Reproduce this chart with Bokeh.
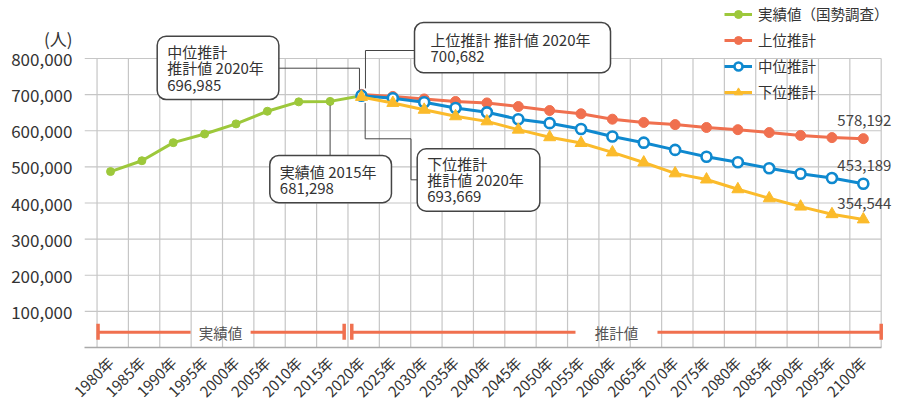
import math
from bokeh.plotting import figure
from bokeh.models import Range1d, FixedTicker, NumeralTickFormatter, Label, Arrow
from bokeh.core.properties import value
from bokeh.embed import file_html
from bokeh.resources import INLINE

# ---------------- data ----------------
years = [1980, 1985, 1990, 1995, 2000, 2005, 2010, 2015, 2020, 2025, 2030, 2035, 2040,
         2045, 2050, 2055, 2060, 2065, 2070, 2075, 2080, 2085, 2090, 2095, 2100]
year_labels = [f"{y}年" for y in years]
y_ticks = [100000, 200000, 300000, 400000, 500000, 600000, 700000, 800000]

actual_years = years[:9]
actual = [487000, 517000, 567000, 591000, 619000, 654000, 680000, 681298, 697000]

proj_years = years[8:]
upper = [700682, 695000, 688000, 681000, 677000, 667000, 656000, 647000, 632000,
         623000, 617000, 609000, 603000, 595000, 587000, 581000, 578192]
middle = [696985, 690000, 679000, 663000, 651000, 632000, 621000, 605000, 584000,
          567000, 547000, 528000, 513000, 496000, 481000, 469000, 453189]
lower = [693669, 677000, 658000, 640000, 626000, 603000, 582000, 566000, 540000,
         512000, 482000, 465000, 438000, 413000, 390000, 369000, 354544]

series_names = ["実績値（国勢調査）", "上位推計", "中位推計", "下位推計"]
period_names = ["実績値", "推計値"]
unit_label = "(人)"

# ---------------- layout / style ----------------
FONT = "Noto Sans CJK JP"
C_GREEN = "#9dc83b"
C_RED = "#f0704f"
C_BLUE = "#0f89cf"
C_YELLOW = "#fbbb2b"
C_TEXT = "#333333"
C_GRID = "#c6c6c6"

W, H = 899, 403
FL, FB = 84, 347                 # frame left / bottom (px)
FW, FH = W - FL, FB              # frame spans to right and top edges
B = -0.43                        # grid boundary offset from category centre
X0 = -0.83
PPX = (880.7 - FL) / (len(years) + B - X0)
X1 = X0 + FW / PPX
PPY = 289 / 800000
Y1 = FH / PPY


def px_x(px):
    return X0 + (px - FL) / PPX


def px_y(py):
    return (FB - py) / PPY


def dx(px):
    return px / PPX


def dy(px):
    return px / PPY


idx = {y: i for i, y in enumerate(years)}
xa = [idx[y] for y in actual_years]
xp = [idx[y] for y in proj_years]
boundaries = [i + B for i in range(len(years) + 1)]
unit_tick = int(round(px_y(38), -3))

p = figure(frame_width=FW, frame_height=FH,
           x_range=Range1d(X0, X1), y_range=Range1d(0, Y1),
           output_backend="svg", toolbar_location=None,
           min_border_left=FL, min_border_right=0,
           min_border_top=0, min_border_bottom=H - FB)
p.outline_line_color = None
p.background_fill_color = "white"
p.xgrid.visible = False
p.ygrid.visible = False

# axes
p.yaxis.ticker = FixedTicker(ticks=y_ticks + [unit_tick])
p.yaxis.formatter = NumeralTickFormatter(format="0,0")
p.yaxis.major_label_overrides = {unit_tick: unit_label}
p.yaxis.axis_line_color = None
p.yaxis.major_tick_line_color = None
p.yaxis.minor_tick_line_color = None
p.yaxis.major_label_standoff = 6
p.yaxis.major_label_text_font = FONT
p.yaxis.major_label_text_font_size = "17px"
p.yaxis.major_label_text_color = C_TEXT

p.xaxis.ticker = FixedTicker(ticks=list(range(len(years))))
p.xaxis.major_label_overrides = {i: lab for i, lab in enumerate(year_labels)}
p.xaxis.major_label_orientation = math.pi / 4
p.xaxis.major_label_standoff = 6
p.xaxis.bounds = (X0, boundaries[-1])
p.xaxis.axis_line_color = "#a9a9a9"
p.xaxis.axis_line_width = 1.5
p.xaxis.major_tick_line_color = None
p.xaxis.minor_tick_line_color = None
p.xaxis.major_label_text_font = FONT
p.xaxis.major_label_text_font_size = "15px"
p.xaxis.major_label_text_color = C_TEXT

# grid
p.segment(x0=boundaries, x1=boundaries, y0=[0] * len(boundaries),
          y1=[y_ticks[-1]] * len(boundaries), line_color=C_GRID, line_width=1.2)
p.segment(x0=[X0] * len(y_ticks), x1=[boundaries[-1]] * len(y_ticks),
          y0=y_ticks, y1=y_ticks, line_color=C_GRID, line_width=1.2)

# period bracket
yb = px_y(331.7)
yc0, yc1 = px_y(339.3), px_y(323.3)
b0 = boundaries[0]
bs = boundaries[idx[proj_years[0]]]
bl = boundaries[-1]
left_end = bs - dx(3.8)
right_start = bs + dx(3.8)
c1 = (b0 + left_end) / 2
c2 = (right_start + bl) / 2
p.segment(x0=[b0, c1 + dx(30), right_start, c2 + dx(41)],
          x1=[c1 - dx(30), left_end, c2 - dx(41), bl],
          y0=[yb] * 4, y1=[yb] * 4, line_color=C_RED, line_width=3)
p.segment(x0=[b0 + dx(1), left_end, right_start, bl],
          x1=[b0 + dx(1), left_end, right_start, bl],
          y0=[yc0] * 4, y1=[yc1] * 4, line_color=C_RED, line_width=3.5)
p.text(x=[c1, c2], y=[yb, yb], text=period_names, text_align="center",
       text_baseline="middle", text_font=value(FONT), text_font_size="14.5px",
       text_color="#555555")

# series
p.line(xa, actual, line_color=C_GREEN, line_width=3, legend_label=series_names[0])
p.scatter(xa, actual, marker="circle", size=8, fill_color=C_GREEN, line_color=C_GREEN,
          legend_label=series_names[0])
p.line(xp, upper, line_color=C_RED, line_width=3, legend_label=series_names[1])
p.scatter(xp, upper, marker="circle", size=10, fill_color=C_RED, line_color=C_RED,
          legend_label=series_names[1])
p.line(xp, middle, line_color=C_BLUE, line_width=3, legend_label=series_names[2])
p.scatter(xp, middle, marker="circle", size=10, fill_color="white", line_color=C_BLUE,
          line_width=2.6, legend_label=series_names[2])
p.line(xp, lower, line_color=C_YELLOW, line_width=3, legend_label=series_names[3])
p.scatter(xp, lower, marker="triangle", size=12, fill_color=C_YELLOW, line_color=C_YELLOW,
          legend_label=series_names[3])

# end labels
last_vals = [upper[-1], middle[-1], lower[-1]]
p.text(x=[xp[-1]] * 3, y=last_vals, text=[f"{v:,}" for v in last_vals],
       x_offset=-26, y_offset=[-18, -18, -16], text_align="left", text_baseline="middle",
       text_font=value(FONT), text_font_size="15px", text_color="#444444")

# legend
lg = p.legend[0]
lg.location = (724 - FL, FB - 102)
lg.padding = 0
lg.margin = 0
lg.spacing = 5
lg.glyph_width = 28
lg.glyph_height = 20
lg.label_height = 20
lg.label_standoff = 6
lg.background_fill_alpha = 0
lg.border_line_alpha = 0
lg.label_text_font = FONT
lg.label_text_font_size = "14.5px"
lg.label_text_color = C_TEXT


# connectors
def connector(pts):
    for (xa_, ya_), (xb_, yb_) in zip(pts[:-1], pts[1:]):
        p.add_layout(Arrow(end=None, x_start=xa_, y_start=ya_, x_end=xb_, y_end=yb_,
                           line_color="#444444", line_width=1))


x20 = idx[2020]
x15 = idx[2015]
connector([(px_x(278), px_y(67.7)), (x20 - dx(2), px_y(67.7)), (x20 - dx(2), middle[0] + dy(6))])
connector([(px_x(416), px_y(50)), (x20 + dx(4), px_y(50)), (x20 + dx(4), upper[0] + dy(6))])
connector([(x15, actual[7] - dy(4)), (x15, px_y(155))])
connector([(x20 + dx(3.7), lower[0] - dy(6)), (x20 + dx(3.7), px_y(138.3)),
           (px_x(410.5), px_y(138.3)), (px_x(410.5), px_y(179.3)), (px_x(417), px_y(179.3))])


def callout(text, left_px, top_px, pad):
    p.add_layout(Label(x=px_x(left_px), y=px_y(top_px), text=text, text_align="left",
                       text_baseline="top", text_font=FONT, text_font_size="15px",
                       text_color=C_TEXT, text_line_height=0.77,
                       background_fill_color="white", border_line_color="#444444",
                       border_line_width=1.5, border_radius=9, padding=pad))


callout(f"{series_names[2]}\n推計値 2020年\n{middle[0]:,}", 156.7, 35.7,
        dict(left=10, right=15, top=5, bottom=5))
callout(f"{series_names[1]} 推計値 2020年\n{upper[0]:,}", 414, 22,
        dict(left=16, right=20, top=6, bottom=7))
callout(f"実績値 2015年\n{actual[7]:,}", 269.3, 155,
        dict(left=10, right=15, top=5, bottom=5))
callout(f"{series_names[3]}\n推計値 2020年\n{lower[0]:,}", 416.7, 148.3,
        dict(left=10, right=16, top=4, bottom=5))

html = file_html(p, INLINE, title="chart")
html = html.replace("</head>",
                    "<style>html,body{margin:0!important;padding:0!important;"
                    "overflow:hidden!important}</style></head>", 1)
open("out.html", "w").write(html)
